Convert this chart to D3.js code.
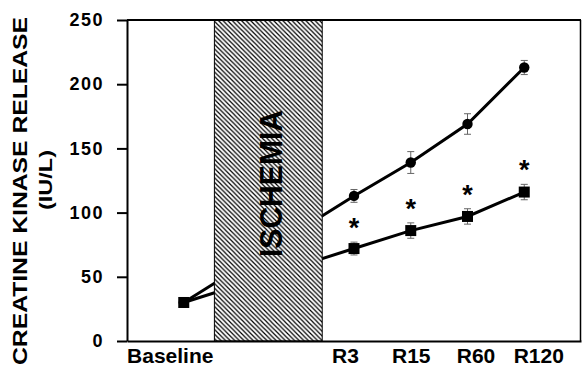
<!DOCTYPE html>
<html>
<head>
<meta charset="utf-8">
<script src="https://cdn.jsdelivr.net/npm/d3@7"></script>
<style>
  body { margin: 0; background: #fff; }
  svg { display: block; font-family: "Liberation Sans", Arial, sans-serif; font-weight: bold; }
  .axis path, .axis line { stroke: #000; stroke-width: 2; }
  .ytick text { font-size: 18px; letter-spacing: 1.5px; }
  .xtick text { font-size: 21px; }
</style>
</head>
<body>
<svg class="chart" width="582" height="367"></svg>
<script>
// time points, slots 1-2 are the ischemia period
const timepoints = ["Baseline", "R3", "R15", "R60", "R120"]
const timeSlot = [0, 3, 4, 5, 6]

// creatine kinase release (IU/L), mean and error
const upperValues = [30, 113, 139, 169, 213]
const upperErrors = [2, 5, 8.5, 8, 5.5]
const lowerValues = [30, 72, 86, 97, 116]
const lowerErrors = [2, 5, 6, 6, 6]
const significant = [false, true, true, true, true]

const yTicks = [0, 50, 100, 150, 200, 250]

const svg = d3.select("svg.chart")

const plotLeft = 127, plotRight = 581, plotTop = 20, plotBottom = 341

const x = d3.scaleLinear()
    .domain([-1, 7])
    .range([plotLeft, plotRight])

const y = d3.scaleLinear()
    .domain([0, 250])
    .range([plotBottom, plotTop])

const step = x(1) - x(0)

// hatch pattern for ischemia
const pattern = svg.append("defs")
    .append("pattern")
    .attr("id", "hatch")
    .attr("patternUnits", "userSpaceOnUse")
    .attr("width", 4.6)
    .attr("height", 4.6)

pattern.append("path")
    .attr("d", "M0,0 L4.6,4.6 M-1,3.6 L1,5.6 M3.6,-1 L5.6,1")
    .attr("stroke", "#000")
    .attr("stroke-width", 1.2)

const upper = timepoints.map((t, i) => ({ slot: timeSlot[i], v: upperValues[i], e: upperErrors[i] }))
const lower = timepoints.map((t, i) => ({ slot: timeSlot[i], v: lowerValues[i], e: lowerErrors[i], sig: significant[i] }))

const line = d3.line()
    .x(d => x(d.slot))
    .y(d => y(d.v))

svg.selectAll("path.series")
    .data([upper, lower])
    .enter()
    .append("path")
    .attr("class", "series")
    .attr("d", line)
    .attr("fill", "none")
    .attr("stroke", "#000")
    .attr("stroke-width", 3)

// ischemia band covers the lines
const ischX0 = x(0) + step * 0.54
const ischX1 = x(3) - step * 0.56

svg.append("rect")
    .attr("x", ischX0)
    .attr("y", plotTop)
    .attr("width", ischX1 - ischX0)
    .attr("height", plotBottom - plotTop)
    .attr("fill", "#fff")

svg.append("rect")
    .attr("x", ischX0)
    .attr("y", plotTop)
    .attr("width", ischX1 - ischX0)
    .attr("height", plotBottom - plotTop)
    .attr("fill", "url(#hatch)")
    .attr("stroke", "#000")
    .attr("stroke-width", 1)

svg.append("text")
    .attr("transform", "translate(" + ((ischX0 + ischX1) / 2 + 2) + "," + 183.5 + ") rotate(-90)")
    .attr("y", 12)
    .attr("text-anchor", "middle")
    .attr("font-size", 32)
    .attr("textLength", 147)
    .attr("lengthAdjust", "spacingAndGlyphs")
    .text("ISCHEMIA")

// error bars
const errGroups = svg.selectAll("g.err")
    .data(upper.concat(lower))
    .enter()
    .append("g")
    .attr("class", "err")
    .attr("stroke", "#666")
    .attr("stroke-width", 1)

errGroups.append("line")
    .attr("x1", d => x(d.slot))
    .attr("x2", d => x(d.slot))
    .attr("y1", d => y(d.v - d.e))
    .attr("y2", d => y(d.v + d.e))

errGroups.append("line")
    .attr("x1", d => x(d.slot) - 3.5)
    .attr("x2", d => x(d.slot) + 3.5)
    .attr("y1", d => y(d.v + d.e))
    .attr("y2", d => y(d.v + d.e))

errGroups.append("line")
    .attr("x1", d => x(d.slot) - 3.5)
    .attr("x2", d => x(d.slot) + 3.5)
    .attr("y1", d => y(d.v - d.e))
    .attr("y2", d => y(d.v - d.e))

// markers
svg.selectAll("circle.upper")
    .data(upper)
    .enter()
    .append("circle")
    .attr("class", "upper")
    .attr("cx", d => x(d.slot))
    .attr("cy", d => y(d.v))
    .attr("r", 5.2)
    .attr("fill", "#000")

svg.selectAll("rect.lower")
    .data(lower)
    .enter()
    .append("rect")
    .attr("class", "lower")
    .attr("x", d => x(d.slot) - 5.5)
    .attr("y", d => y(d.v) - 5.5)
    .attr("width", 11)
    .attr("height", 11)
    .attr("fill", "#000")

// significance asterisks
svg.selectAll("text.star")
    .data(lower.filter(d => d.sig))
    .enter()
    .append("text")
    .attr("class", "star")
    .attr("x", d => x(d.slot))
    .attr("y", d => y(d.v + d.e) - 5)
    .attr("text-anchor", "middle")
    .attr("font-size", 27)
    .text("*")

// axes
const yAxis = svg.append("g")
    .attr("class", "axis ytick")
    .attr("transform", "translate(" + plotLeft + ",0)")
    .call(d3.axisLeft(y).tickValues(yTicks).tickSize(10).tickPadding(13).tickSizeOuter(0))

yAxis.select(".domain").attr("stroke-width", 2.5)

const labelNudge = [-14, -9, 0, 8, 14]

const xAxis = svg.append("g")
    .attr("class", "axis xtick")
    .attr("transform", "translate(0," + plotBottom + ")")
    .call(d3.axisBottom(x).tickValues(timeSlot).tickSize(0).tickPadding(7)
        .tickFormat((d, i) => timepoints[i]))

xAxis.select(".domain").attr("stroke-width", 2.5)
xAxis.selectAll(".tick text").attr("dx", (d, i) => labelNudge[i])

// frame top and right
svg.append("line")
    .attr("x1", plotLeft).attr("x2", plotRight)
    .attr("y1", plotTop).attr("y2", plotTop)
    .attr("stroke", "#000").attr("stroke-width", 2)

svg.append("line")
    .attr("x1", plotRight - 0.5).attr("x2", plotRight - 0.5)
    .attr("y1", plotTop).attr("y2", plotBottom)
    .attr("stroke", "#000").attr("stroke-width", 1.5)

// y axis title
svg.append("text")
    .attr("transform", "translate(20,191) rotate(-90)")
    .attr("y", 7)
    .attr("text-anchor", "middle")
    .attr("font-size", 20.5)
    .attr("textLength", 348)
    .attr("lengthAdjust", "spacingAndGlyphs")
    .text("CREATINE KINASE RELEASE")

svg.append("text")
    .attr("transform", "translate(46,180) rotate(-90)")
    .attr("y", 6)
    .attr("text-anchor", "middle")
    .attr("font-size", 18)
    .attr("textLength", 60)
    .attr("lengthAdjust", "spacingAndGlyphs")
    .text("(IU/L)")
</script>
</body>
</html>
